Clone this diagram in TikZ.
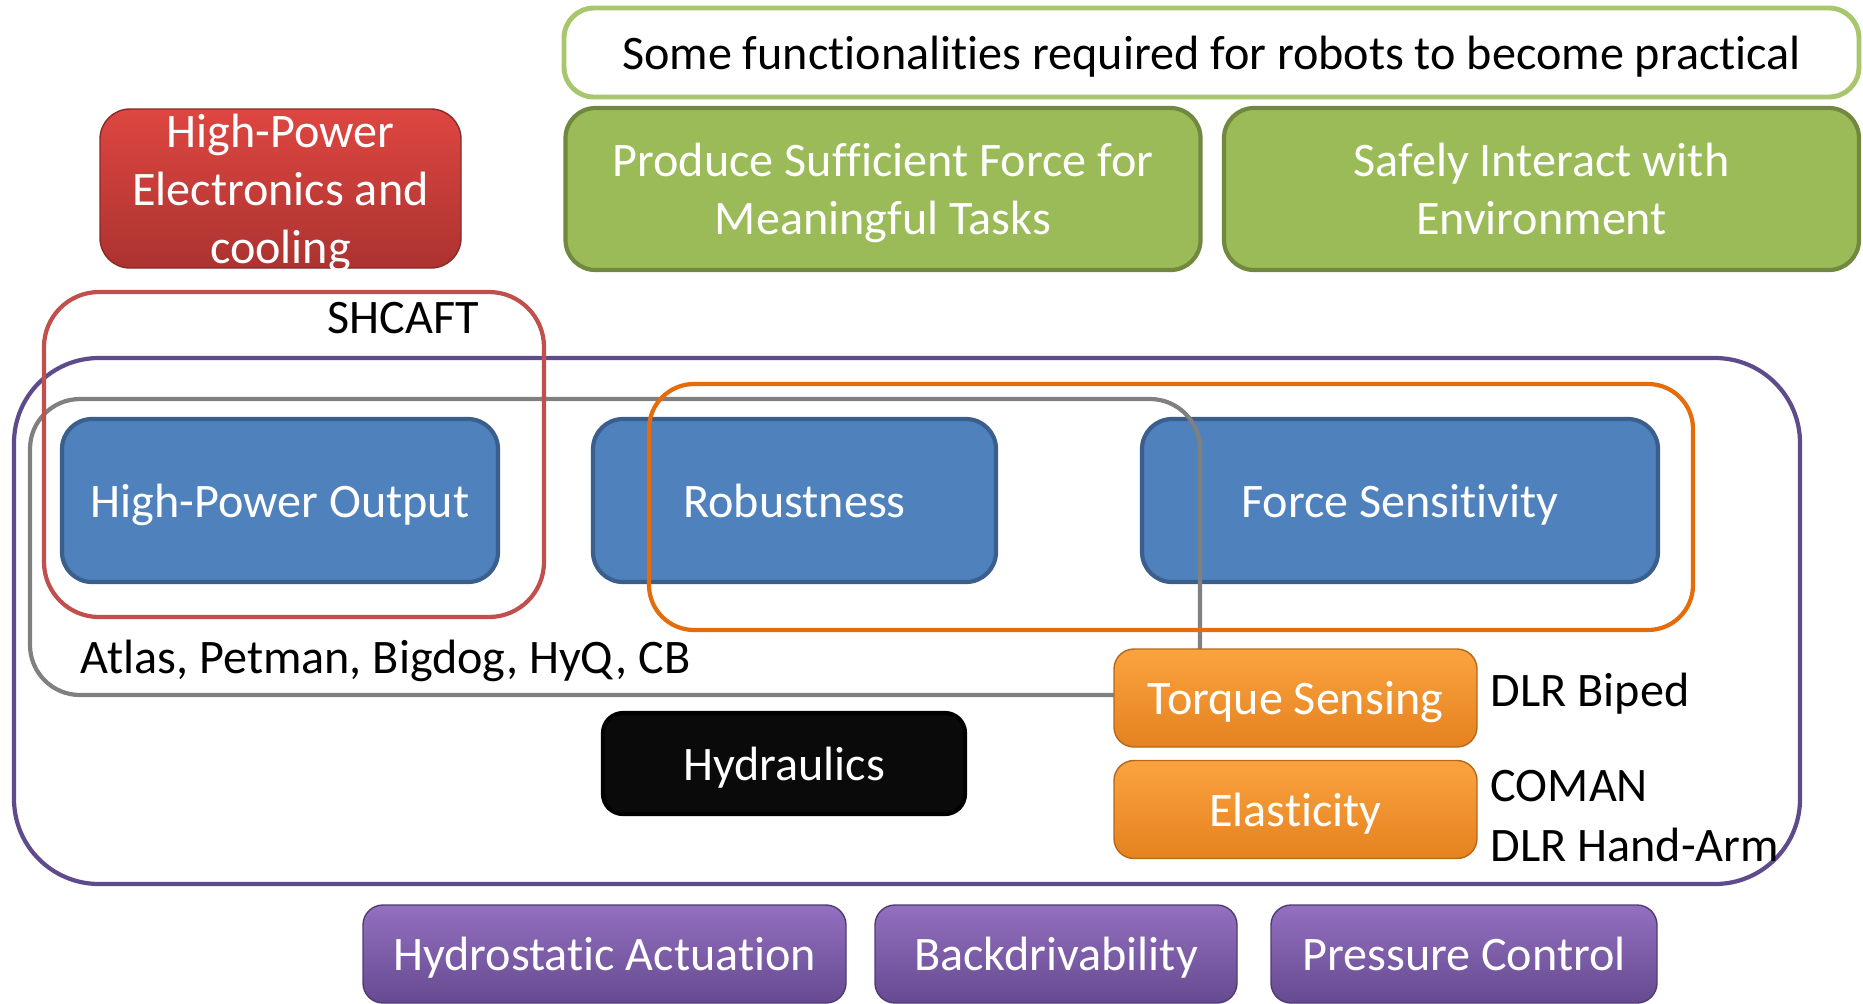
\documentclass[tikz,border=0pt]{standalone}
\usepackage{fontspec}
\setmainfont{Carlito}[Ligatures=NoCommon]
\usepackage{tikz}
\usetikzlibrary{arrows.meta}

\definecolor{boxblue}{HTML}{4F81BD}
\definecolor{boxblueline}{HTML}{3A5F8D}
\definecolor{boxgreen}{HTML}{9BBB59}
\definecolor{boxgreenline}{HTML}{71893F}
\definecolor{lightgreen}{HTML}{A8C76C}
\definecolor{redtop}{HTML}{DE4641}
\definecolor{redbot}{HTML}{AC3330}
\definecolor{redline}{HTML}{C0504D}
\definecolor{purpleline}{HTML}{5F4B8B}
\definecolor{orangeline}{HTML}{E46C0A}
\definecolor{orangetop}{HTML}{FBA33F}
\definecolor{orangebot}{HTML}{E4821F}
\definecolor{purpletop}{HTML}{9370C0}
\definecolor{purplebot}{HTML}{664A90}

\begin{document}
\begin{tikzpicture}[
    x=0.1mm, y=-0.1mm, % one unit is one pixel of the slide, y grows downwards
    every node/.style={
        inner sep=0pt, % boxes get their size from minimum width/height
        text depth=0pt, % keep descenders from pushing the text up
        align=center, % centre text within nodes
        font=\fontsize{13.7}{16.5}\selectfont % Calibri-like text
    },
    block/.style={
        rounded corners=3mm, % rounded boxes as in the slide
        text=white,
        line width=1.2pt
    },
    bluebox/.style={block, draw=boxblueline, fill=boxblue,
        minimum height=16.3mm},
    greenbox/.style={block, draw=boxgreenline, fill=boxgreen,
        minimum width=63.5mm, minimum height=16.2mm},
    orangebox/.style={block, rounded corners=2mm, draw=orangebot!80!black,
        line width=0.4pt, top color=orangetop, bottom color=orangebot,
        minimum width=36.3mm, minimum height=9.8mm},
    purplebox/.style={block, rounded corners=2mm, draw=purplebot!80!black,
        line width=0.4pt, top color=purpletop, bottom color=purplebot,
        minimum height=9.8mm},
    label/.style={anchor=west}, % plain black labels
    group/.style={line width=1.2pt} % outlines of the groups
]

\useasboundingbox (0,0) rectangle (1863,1003);
\clip (0,0) rectangle (1863,1003);

% goals
\node[draw=lightgreen, line width=1.4pt, rounded corners=3mm,
    minimum width=129.5mm, minimum height=8.9mm] (goal) at (1211.5,52.5)
    {Some functionalities required for robots to become practical};
\node[greenbox] (force-goal) at (883,189)
    {Produce Sufficient Force for\\Meaningful Tasks};
\node[greenbox] (safe-goal) at (1541.5,189)
    {Safely Interact with\\Environment};
\node[block, draw=redbot!80!black, line width=0.4pt,
    top color=redtop, bottom color=redbot,
    minimum width=36.1mm, minimum height=15.9mm] (electronics) at (280.5,188.5)
    {High-Power\\Electronics and\\cooling};

% requirements
\node[bluebox, minimum width=43.6mm] (power) at (280,500.5) {High-Power Output};
\node[bluebox, minimum width=40.3mm] (robust) at (794.5,500.5) {Robustness};
\node[bluebox, minimum width=51.6mm] (sensitive) at (1400,500.5) {Force Sensitivity};

% groups of robots
\draw[group, draw=purpleline, rounded corners=8.5mm] (14,358) rectangle (1800,884);
\draw[group, draw=gray, rounded corners=5mm] (30,399) rectangle (1200,695);
\draw[group, draw=redline, rounded corners=5.5mm] (44,292) rectangle (544,617);
\draw[group, draw=orangeline, rounded corners=4.5mm] (649,384) rectangle (1693,630);

\node (shcaft) at (403,318) {SHCAFT};
\node[label] (hydro-robots) at (80,657) {Atlas, Petman, Bigdog, HyQ, CB};

% technologies
\node[block, rounded corners=2mm, fill=black!96, draw=black,
    minimum width=36.2mm, minimum height=10.1mm] (hydraulics) at (784,763.5) {Hydraulics};
\node[orangebox] (torque) at (1295.5,698) {Torque Sensing};
\node[orangebox] (elastic) at (1295.5,809.5) {Elasticity};
\node[label] (dlr-biped) at (1490,690) {DLR Biped};
\node[label] (coman) at (1490,786) {COMAN};
\node[label] (dlr-arm) at (1490,845) {DLR Hand-Arm};

% proposed approach
\node[purplebox, minimum width=48.3mm] (hydrostatic) at (604.5,954) {Hydrostatic Actuation};
\node[purplebox, minimum width=36.2mm] (backdrive) at (1056,954) {Backdrivability};
\node[purplebox, minimum width=38.6mm] (pressure) at (1464,954) {Pressure Control};
\end{tikzpicture}
\end{document}
